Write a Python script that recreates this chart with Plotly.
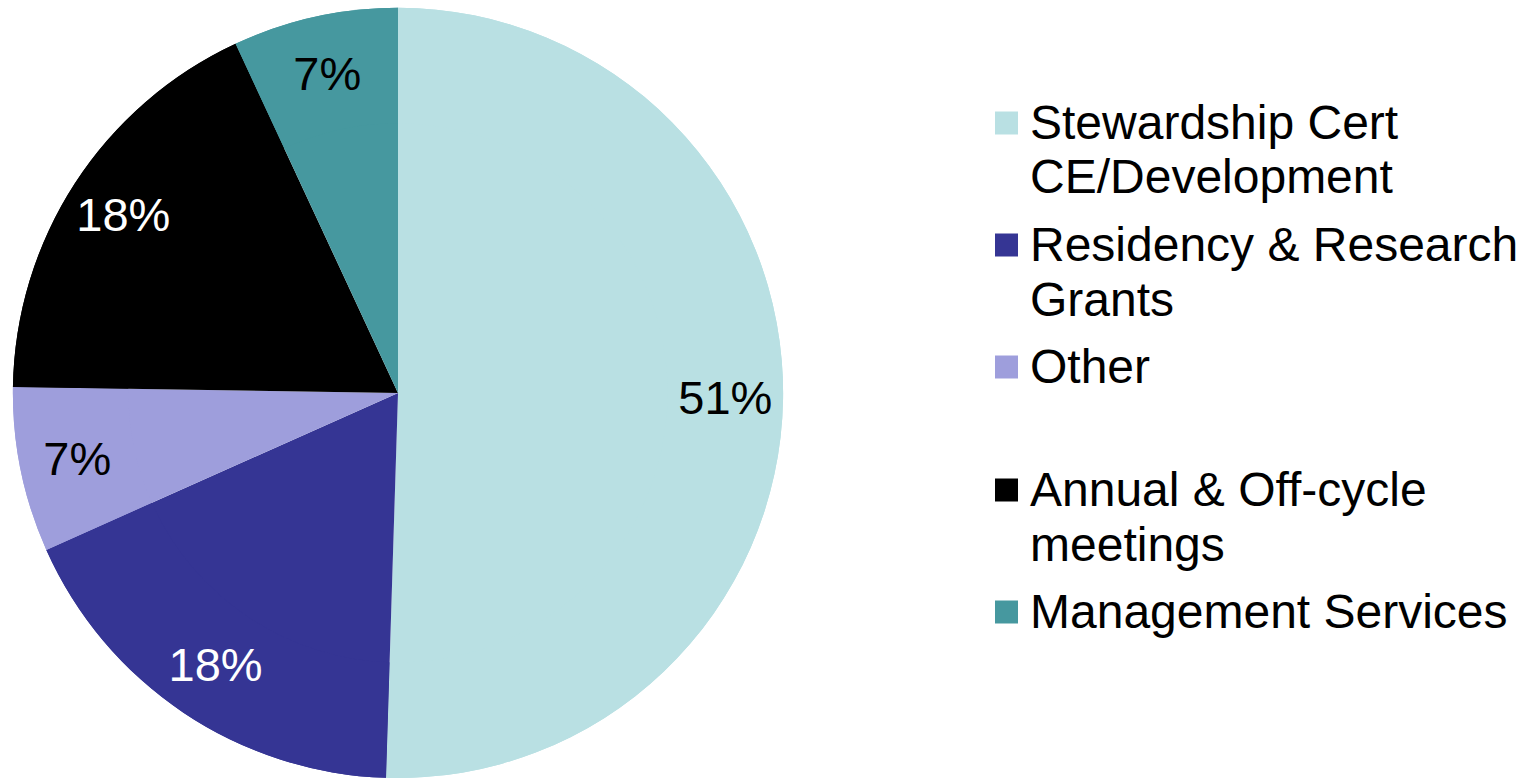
import plotly.graph_objects as go

W, H = 1534, 778

categories = ["Stewardship Cert CE/Development", "Residency & Research Grants", "Other",
              "Annual & Off-cycle meetings", "Management Services"]
values = [51, 18, 7, 18, 7]
colors = ["#B9E0E3", "#353594", "#9E9EDC", "#000000", "#46989F"]
text_colors = ["#000000", "#FFFFFF", "#000000", "#FFFFFF", "#000000"]
# legend text lines for each category (as wrapped in the original)
legend_lines = [["Stewardship Cert", "CE/Development"],
                ["Residency & Research", "Grants"],
                ["Other"],
                ["Annual & Off-cycle", "meetings"],
                ["Management Services"]]

FONT = "Liberation Sans, Arial, sans-serif"
dom = dict(x=[0, 796 / W], y=[0, 0.99])

fig = go.Figure()
# full pie body
fig.add_trace(go.Pie(
    labels=categories, values=values, sort=False,
    direction="clockwise", rotation=0,
    marker=dict(colors=colors, line=dict(width=0)),
    textinfo="none", domain=dom, showlegend=False,
    hoverinfo="label+value",
))
# outer ring carrying the percentage labels (positions labels near the rim)
fig.add_trace(go.Pie(
    labels=categories, values=values, sort=False,
    direction="clockwise", rotation=0, hole=0.7,
    marker=dict(colors=colors, line=dict(width=0)),
    texttemplate="%{value}%",
    textposition="inside",
    insidetextorientation="horizontal",
    textfont=dict(family=FONT, size=47, color=text_colors),
    domain=dom, showlegend=False,
    hoverinfo="skip",
))

# manual legend (large square swatches like the original)
px = lambda y: 1 - y / H
sq = 23
marker_centers = [123, 245, 367, 490, 612]
line_gap = 55
shapes, annotations = [], []
for i, (lines, c) in enumerate(zip(legend_lines, colors)):
    yc = marker_centers[i]
    shapes.append(dict(type="rect", xref="paper", yref="paper",
                       x0=995 / W, x1=(995 + sq) / W,
                       y0=px(yc + sq / 2), y1=px(yc - sq / 2),
                       fillcolor=c, line=dict(width=0)))
    for j, t in enumerate(lines):
        annotations.append(dict(text=t, xref="paper", yref="paper",
                                x=1028 / W, y=px(yc - 1 + j * line_gap),
                                xanchor="left", yanchor="middle", showarrow=False,
                                font=dict(family=FONT, size=48, color="#000000")))

fig.update_layout(
    width=W, height=H,
    margin=dict(l=0, r=0, t=0, b=0),
    paper_bgcolor="#FFFFFF",
    plot_bgcolor="#FFFFFF",
    shapes=shapes,
    annotations=annotations,
    font=dict(family=FONT),
)

fig.write_html("out.html", config={"displayModeBar": False},
               post_script="document.body.style.margin='0';")
